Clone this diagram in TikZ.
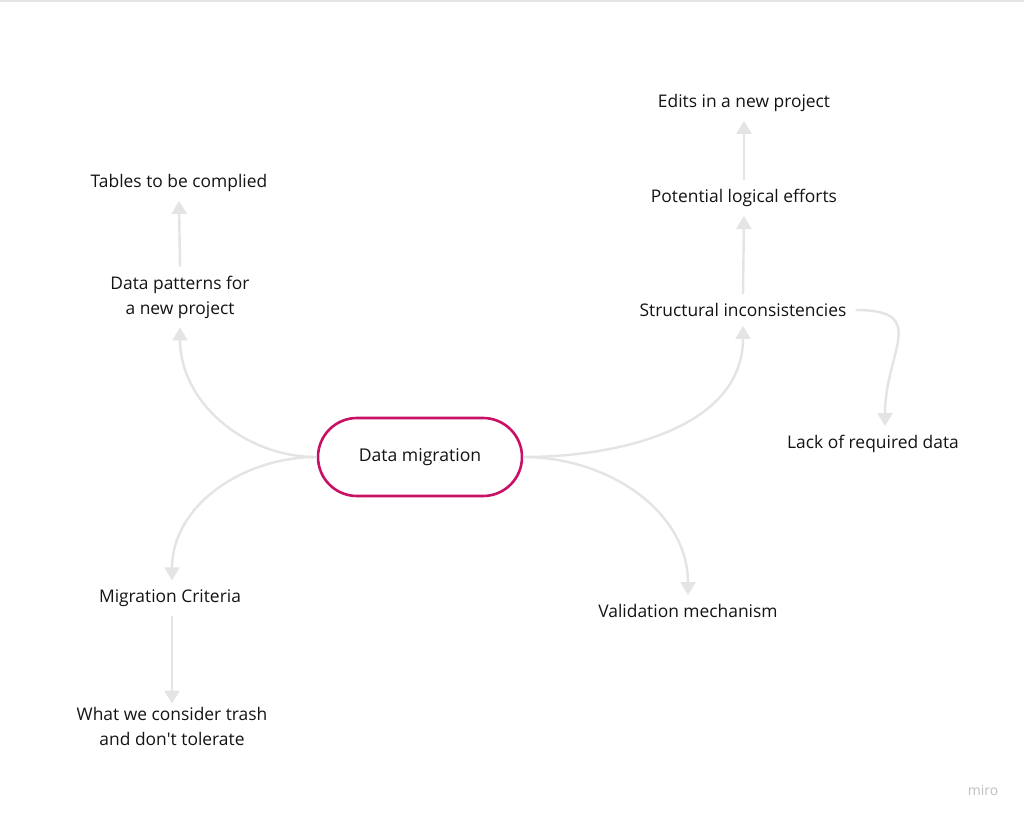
\documentclass[tikz,border=0pt]{standalone}
\usepackage{fontspec}
\setmainfont{Open Sans}
\usetikzlibrary{arrows.meta}
\definecolor{pillmagenta}{RGB}{200,16,100}
\definecolor{linkgray}{RGB}{228,228,228}
\definecolor{textblack}{RGB}{20,20,20}
\newcommand{\straightquote}{\XeTeXglyph\XeTeXcharglyph"27\relax}
\begin{document}
\begin{tikzpicture}[x=1pt,y=-1pt,
  topic/.style={align=center,inner sep=9pt,yshift=-2pt,text=textblack,font=\fontsize{17.4}{25}\selectfont},
  pill/.style={draw=pillmagenta,line width=2.6pt,minimum width=204pt,minimum height=78pt,rounded corners=39pt,font=\fontsize{17.6}{20}\selectfont,text=textblack},
  link/.style={draw=linkgray,line width=2.4pt,-{Triangle[width=15pt,length=13pt]}}]
\useasboundingbox (0,0) rectangle (1024,819);
\fill[white] (0,0) rectangle (1024,819);
\draw[linkgray,line width=2pt] (0,1) -- (1024,1);
\node[pill] (dm) at (420,457) {\raisebox{-2pt}{Data migration}};
\node[topic] (tb) at (179,181) {Tables to be complied};
\node[topic] (dp) at (180,295) {Data patterns for\\a new project};
\node[topic] (ed) at (744,101) {Edits in a new project};
\node[topic] (pl) at (744,196) {Potential logical efforts};
\node[topic] (st) at (743,308) {Structural inconsistencies};
\node[topic] (lk) at (873,442) {Lack of required data};
\node[topic] (vm) at (688,609) {Validation mechanism};
\node[topic] (mc) at (170,596) {Migration Criteria};
\node[topic] (wt) at (172,724) {What we consider trash\\and don\straightquote t tolerate};
\node[text=black!25,font=\fontsize{14}{16}\selectfont] (logo) at (983,790) {miro};
\draw[link] (dm.west) to[out=180,in=-90] (dp.south);
\draw[link] (dm.west) to[out=180,in=90] ([xshift=2pt]mc.north);
\draw[link] (dm.east) to[out=0,in=-90] (st.south);
\draw[link] (dm.east) to[out=0,in=90] (vm.north);
\draw[link] (st.east) to[out=0,in=90,looseness=1.6] ([xshift=12pt]lk.north);
\draw[link] (dp.north) -- (tb.south);
\draw[link] (st.north) -- (pl.south);
\draw[link] (pl.north) -- (ed.south);
\draw[link] ([xshift=2pt]mc.south) -- ([yshift=-6pt]wt.north);
\end{tikzpicture}
\end{document}
